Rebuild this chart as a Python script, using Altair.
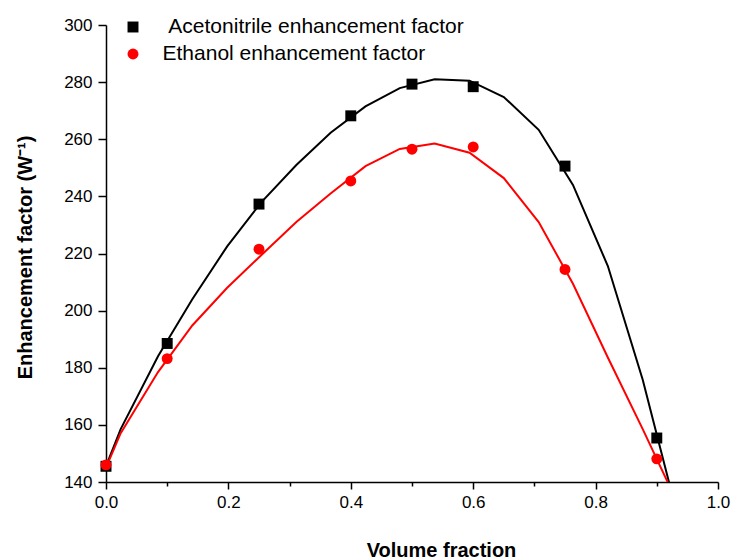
import altair as alt
import pandas as pd

# ---- data ----
pts_x = [0.0, 0.1, 0.25, 0.4, 0.5, 0.6, 0.75, 0.9]
acet_pts = [145.5, 188.5, 237.3, 268.2, 279.3, 278.4, 250.6, 155.4]
eth_pts = [146.0, 183.2, 221.5, 245.4, 256.5, 257.3, 214.4, 148.1]

curve_x = [0.0, 0.024, 0.085, 0.141, 0.198, 0.254, 0.311, 0.367, 0.424,
           0.48, 0.537, 0.594, 0.65, 0.707, 0.763, 0.82, 0.877, 0.933]
acet_curve = [145.5, 158.5, 184.0, 204.0, 222.5, 238.0, 251.0, 262.3, 271.5,
              277.9, 281.0, 280.5, 274.8, 263.3, 244.0, 215.6, 175.8, 129.0]
eth_curve = [145.0, 157.1, 178.5, 194.8, 208.0, 219.5, 231.0, 241.0, 250.6,
             256.6, 258.5, 255.3, 246.4, 231.0, 209.4, 183.6, 158.5, 133.0]

ACET = "\u200b\u00a0Acetonitrile enhancement factor"
ETH = "Ethanol enhancement factor"

pts = pd.DataFrame({
    "x": pts_x * 2,
    "y": acet_pts + eth_pts,
    "series": [ACET] * len(pts_x) + [ETH] * len(pts_x),
})
acet_df = pd.DataFrame({"x": curve_x, "y": acet_curve})
eth_df = pd.DataFrame({"x": curve_x, "y": eth_curve})

FONT = "Liberation Sans"

x_scale = alt.Scale(domain=[0, 1], nice=False, zero=False)
y_scale = alt.Scale(domain=[140, 300], nice=False, zero=False)

x_axis = alt.Axis(
    values=[round(i * 0.1, 1) for i in range(11)],
    labelExpr="round(datum.value*10) % 2 == 0 ? format(datum.value, '.1f') : ''",
    tickSize={"condition": {"test": "round(datum.value*10) % 2 == 0", "value": 7}, "value": 4},
    labelFlush=False, labelOverlap=False, labelPadding=5,
    title="Volume fraction", titleX=335, titleY=74, titleBaseline="alphabetic",
    grid=False,
)
y_axis = alt.Axis(
    values=list(range(140, 301, 10)),
    labelExpr="datum.value % 20 == 0 ? datum.label : ''",
    tickSize={"condition": {"test": "datum.value % 20 == 0", "value": 8}, "value": 5},
    labelFlush=False, labelOverlap=False, labelPadding=6,
    title="Enhancement factor (W\u207b\u00b9)", titleX=-75, titleY=232,
    titleBaseline="alphabetic",
    grid=False,
)

legend = alt.Legend(title=None, orient="none", legendX=16.5, legendY=-8.5,
                    labelFontSize=21, labelFont=FONT, labelLimit=0, symbolSize=120,
                    rowPadding=5, labelOffset=19, padding=0, symbolStrokeWidth=0)

line_acet = alt.Chart(acet_df).mark_line(color="black", strokeWidth=2, clip=True).encode(
    x=alt.X("x:Q", scale=x_scale, axis=x_axis),
    y=alt.Y("y:Q", scale=y_scale, axis=y_axis),
)
line_eth = alt.Chart(eth_df).mark_line(color="#ff0000", strokeWidth=2, clip=True).encode(
    x=alt.X("x:Q", scale=x_scale),
    y=alt.Y("y:Q", scale=y_scale),
)
points = alt.Chart(pts).mark_point(filled=True, size=120, opacity=1).encode(
    x=alt.X("x:Q", scale=x_scale),
    y=alt.Y("y:Q", scale=y_scale),
    color=alt.Color("series:N", scale=alt.Scale(domain=[ACET, ETH], range=["black", "#ff0000"]),
                    legend=legend),
    shape=alt.Shape("series:N", scale=alt.Scale(domain=[ACET, ETH], range=["square", "circle"]),
                    legend=legend),
)

chart = alt.layer(line_acet, line_eth, points).properties(
    width=612, height=457,
    autosize=alt.AutoSizeParams(type="none"),
    padding={"left": 106, "top": 25, "right": 13, "bottom": 78},
).configure(font=FONT).configure_view(stroke=None).configure_axis(
    domainColor="black", domainWidth=1.5, tickColor="black", tickWidth=1.5,
    labelColor="black", labelFont=FONT, labelFontSize=17,
    titleColor="black", titleFont=FONT, titleFontSize=20, titleFontWeight="bold",
)

chart.save("out.html", embed_options={"renderer": "svg", "actions": False})
